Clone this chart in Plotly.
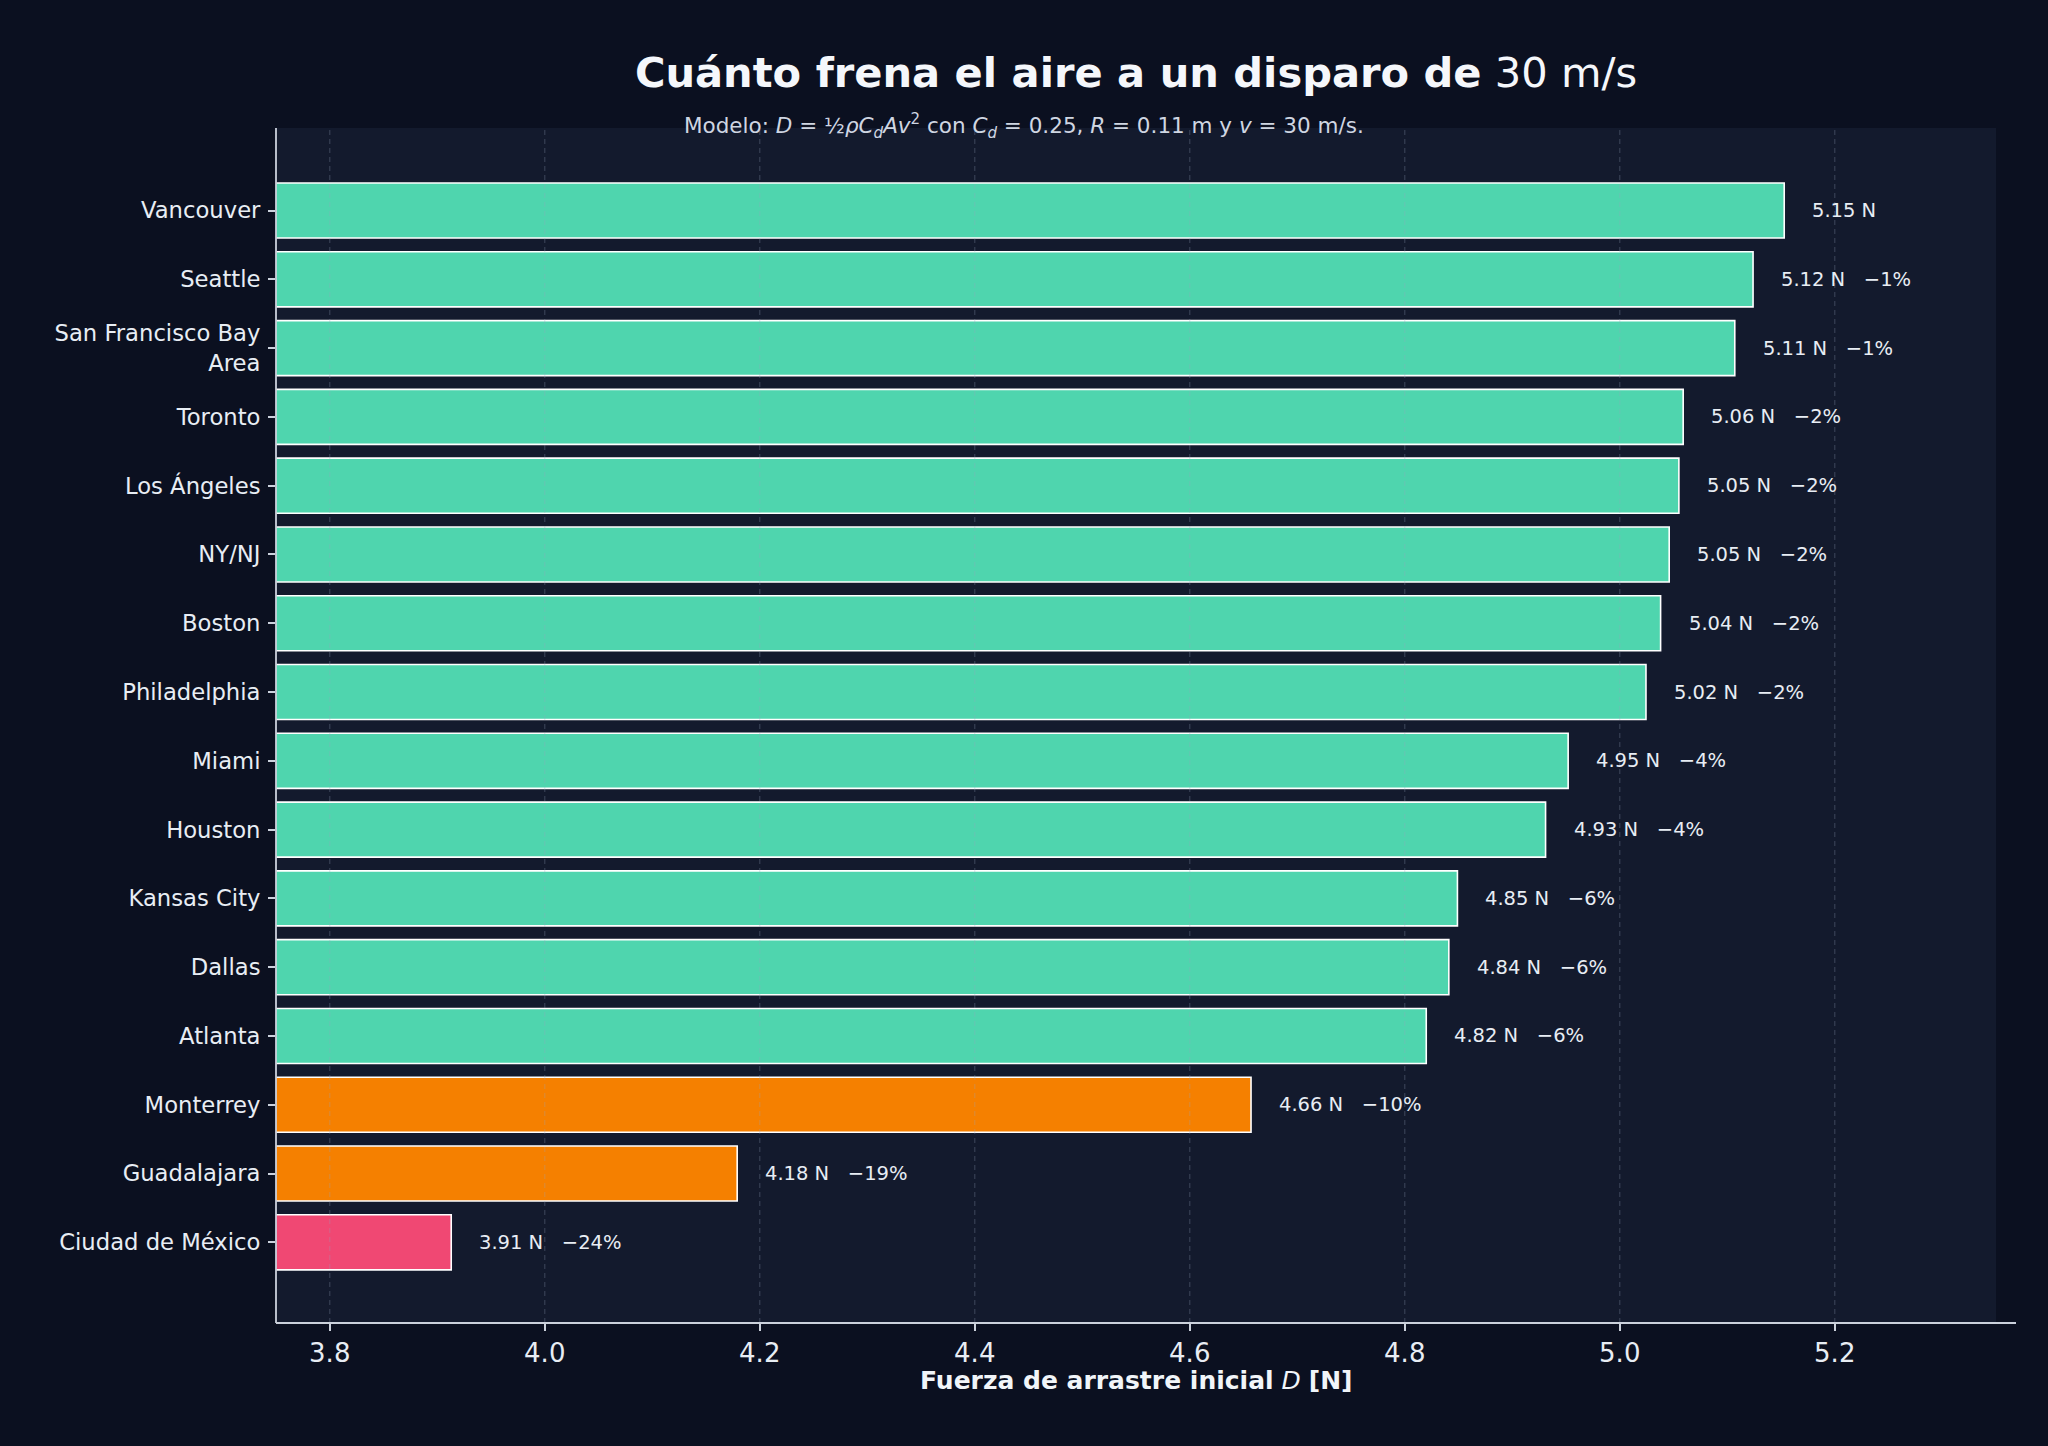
import plotly.graph_objects as go

# ---- data (top to bottom) ----
cities = ["Vancouver", "Seattle", "San Francisco Bay<br>Area", "Toronto", "Los Ángeles",
          "NY/NJ", "Boston", "Philadelphia", "Miami", "Houston", "Kansas City",
          "Dallas", "Atlanta", "Monterrey", "Guadalajara", "Ciudad de México"]
drag_N = [5.153, 5.124, 5.107, 5.059, 5.055, 5.046, 5.038, 5.0244, 4.952, 4.931,
          4.849, 4.841, 4.820, 4.657, 4.179, 3.913]
altitude_group = ["baja"] * 13 + ["media", "media", "alta"]
x_ticks = [3.8, 4.0, 4.2, 4.4, 4.6, 4.8, 5.0, 5.2]

group_colors = {"baja": "#4FD5AE", "media": "#F58000", "alta": "#F04873"}
bar_colors = [group_colors[g] for g in altitude_group]

FIG_BG = "#0b1020"
PANEL_BG = "#131a2d"
AXIS_C = "#cbd1dc"
TXT = "#e8edf4"
FONT = "DejaVu Sans"

# plot-area geometry in pixels
L, R, T, B = 276, 52, 128, 123
W, H = 2048, 1446
PW, PH = W - L - R, H - T - B

ref = drag_N[0]
labels = []
for v in drag_N:
    pct = round((v / ref - 1) * 100)
    if v == ref:
        labels.append(f"{v:.2f} N")
    else:
        labels.append(f"{v:.2f} N\u00a0\u00a0\u00a0\u2212{abs(pct)}%")

fig = go.Figure()
fig.add_trace(go.Bar(
    x=drag_N, y=cities, orientation="h",
    marker=dict(color=bar_colors, line=dict(color="#ffffff", width=1.6)),
    width=0.8, hoverinfo="x+y", showlegend=False,
))

annotations = []
for c, v, t in zip(cities, drag_N, labels):
    annotations.append(dict(
        x=v, y=c, xref="x", yref="y", text=t, showarrow=False,
        xanchor="left", yanchor="middle", xshift=26,
        font=dict(family=FONT, size=19.5, color=TXT),
    ))

# subtitle (centered on the figure, straddling the panel top)
annotations.append(dict(
    x=(W / 2 - L) / PW, y=1 + (T - 126) / PH, xref="paper", yref="paper",
    text="Modelo: <i>D</i> = ½<i>ρC</i><sub><i>d</i></sub><i>Av</i><sup>2</sup> con "
         "<i>C</i><sub><i>d</i></sub> = 0.25, <i>R</i> = 0.11 m y <i>v</i> = 30 m/s.",
    showarrow=False, xanchor="center", yanchor="middle",
    font=dict(family=FONT, size=21.5, color="#cfd6e2"),
))
# x-axis title
annotations.append(dict(
    x=0.5, y=(T + PH - 1380) / PH, xref="paper", yref="paper",
    text="<b>Fuerza de arrastre inicial</b> <i>D</i> <b>[N]</b>",
    showarrow=False, xanchor="center", yanchor="middle",
    font=dict(family=FONT, size=25, color="#f1f5f9"),
))

shapes = []
for xt in x_ticks:
    shapes.append(dict(type="line", xref="x", yref="paper", x0=xt, x1=xt, y0=0, y1=1,
                       line=dict(color="rgba(150,162,190,0.25)", width=1.3, dash="5px,4px"),
                       layer="above"))
# spines
shapes.append(dict(type="line", xref="paper", yref="paper", x0=0, x1=(2016 - L) / PW,
                   y0=0, y1=0, line=dict(color=AXIS_C, width=1.8), layer="above"))
shapes.append(dict(type="line", xref="paper", yref="paper", x0=0, x1=0,
                   y0=0, y1=1, line=dict(color=AXIS_C, width=1.8), layer="above"))

fig.update_layout(
    width=W, height=H,
    paper_bgcolor=FIG_BG, plot_bgcolor=PANEL_BG,
    margin=dict(l=L, r=R, t=T, b=B),
    font=dict(family=FONT, color=TXT),
    title=dict(
        text="<b>Cuánto frena el aire a un disparo de</b> 30 m/s",
        x=0.5, xref="paper", y=1 - 72 / H, yref="container",
        xanchor="center", yanchor="middle",
        font=dict(family=FONT, size=41.6, color="#f5f7fb"),
    ),
    xaxis=dict(
        range=[3.75, 5.35], tickvals=x_ticks, ticktext=[f"{t:.1f}" for t in x_ticks],
        showgrid=False, zeroline=False, showline=False,
        ticks="outside", ticklen=7, tickwidth=1.5, tickcolor=AXIS_C,
        tickfont=dict(family=FONT, size=26, color=TXT),
    ),
    yaxis=dict(
        type="category", categoryorder="array", categoryarray=cities,
        range=[15 + 1.173, -1.2],
        showgrid=False, zeroline=False, showline=False,
        ticks="outside", ticklen=7, tickwidth=1.5, tickcolor=AXIS_C,
        ticklabelstandoff=3,
        tickfont=dict(family=FONT, size=22.7, color=TXT),
    ),
    annotations=annotations, shapes=shapes,
    bargap=0.2,
)

fig.write_html("out.html")
